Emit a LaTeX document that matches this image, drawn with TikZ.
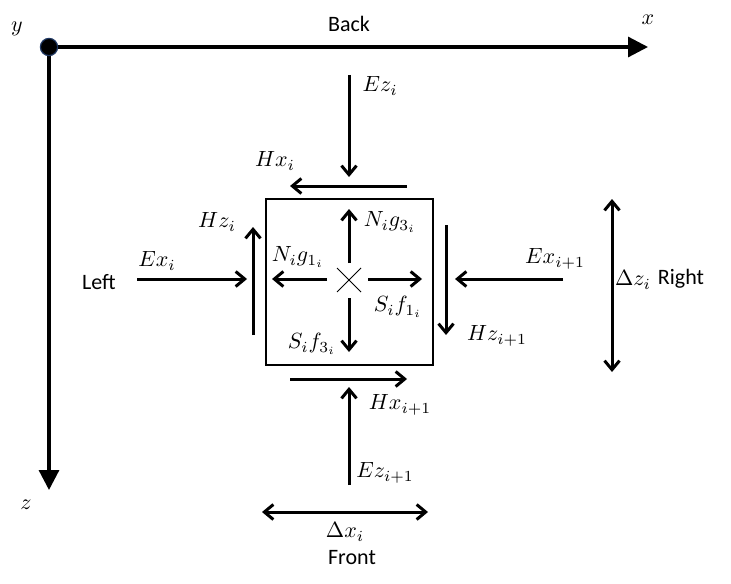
\RequirePackage{fix-cm}
\documentclass[tikz,border=0pt]{standalone}
\usepackage{amsmath}
\usepackage{fontspec}
\setmainfont{Carlito}
\usetikzlibrary{arrows.meta}
\definecolor{dotrim}{HTML}{1F3864}
\tikzset{
  every node/.style={font=\fontsize{11}{13}\selectfont},
  axis/.style={line width=1.6pt,-{Triangle[length=10pt,width=10pt]}},
  flux/.style={line width=1.5pt,-{Straight Barb[length=4.5pt,width=7.5pt]}},
  span/.style={line width=1.5pt,{Straight Barb[length=4.5pt,width=7.5pt]}-{Straight Barb[length=4.5pt,width=7.5pt]}}
}

\begin{document}
\begin{tikzpicture}[x=0.5pt,y=-0.5pt]
    \useasboundingbox (0,0) rectangle (731,583);
    % axes
    \coordinate (O) at (49,47);
    \draw[axis] (O) -- (648,47);
    \draw[axis] (O) -- (49,490);
    \filldraw[fill=black,draw=dotrim,line width=0.6pt] (O) circle (4.3pt);
    \node (ylbl) at (17,29) {$y$};
    \node (xlbl) at (648,20) {$x$};
    \node (zlbl) at (26,505) {$z$};
    % faces
    \node (back) at (349,24) {Back};
    \node (front) at (352,558) {Front};
    \node (left) at (99,282) {Left};
    \node (right) at (681,279) {Right};
    % cell
    \draw[line width=1pt] (266,199) rectangle (433,365);
    \draw[line width=0.5pt] (337,268) -- (361,292) (337,292) -- (361,268);
    % fields on the cell faces
    \draw[flux] (349,75) -- (349,177);
    \node (ezi) at (380,86) {$E z_i$};
    \draw[flux] (407,186) -- (290,186);
    \node (hxi) at (275,161) {$H x_i$};
    \draw[flux] (253,335) -- (253,227);
    \node (hzi) at (217,222) {$H z_i$};
    \draw[flux] (137,279) -- (247,279);
    \node (exi) at (157,261) {$E x_i$};
    \draw[flux] (446,225) -- (446,335);
    \node (hzn) at (497,336) {$H z_{i+1}$};
    \draw[flux] (563,279) -- (455,279);
    \node (exn) at (555,259) {$E x_{i+1}$};
    \draw[flux] (290,379) -- (407,379);
    \node (hxn) at (400,405) {$H x_{i+1}$};
    \draw[flux] (349,485) -- (349,387);
    \node (ezn) at (385,473) {$E z_{i+1}$};
    % sources inside the cell
    \draw[flux] (327,279) -- (272,279);
    \node (ng1) at (298,257) {$N_i g_{1_i}$};
    \draw[flux] (349,263) -- (349,209);
    \node (ng3) at (390,222) {$N_i g_{3_i}$};
    \draw[flux] (368,279) -- (422,279);
    \node (sf1) at (398,307) {$S_i f_{1_i}$};
    \draw[flux] (349,298) -- (349,352);
    \node (sf3) at (312,344) {$S_i f_{3_i}$};
    % cell size
    \draw[span] (262,512) -- (428,512);
    \node (dx) at (345,532) {$\Delta x_i$};
    \draw[span] (612,199) -- (612,372);
    \node (dz) at (633,280) {$\Delta z_i$};
\end{tikzpicture}
\end{document}
